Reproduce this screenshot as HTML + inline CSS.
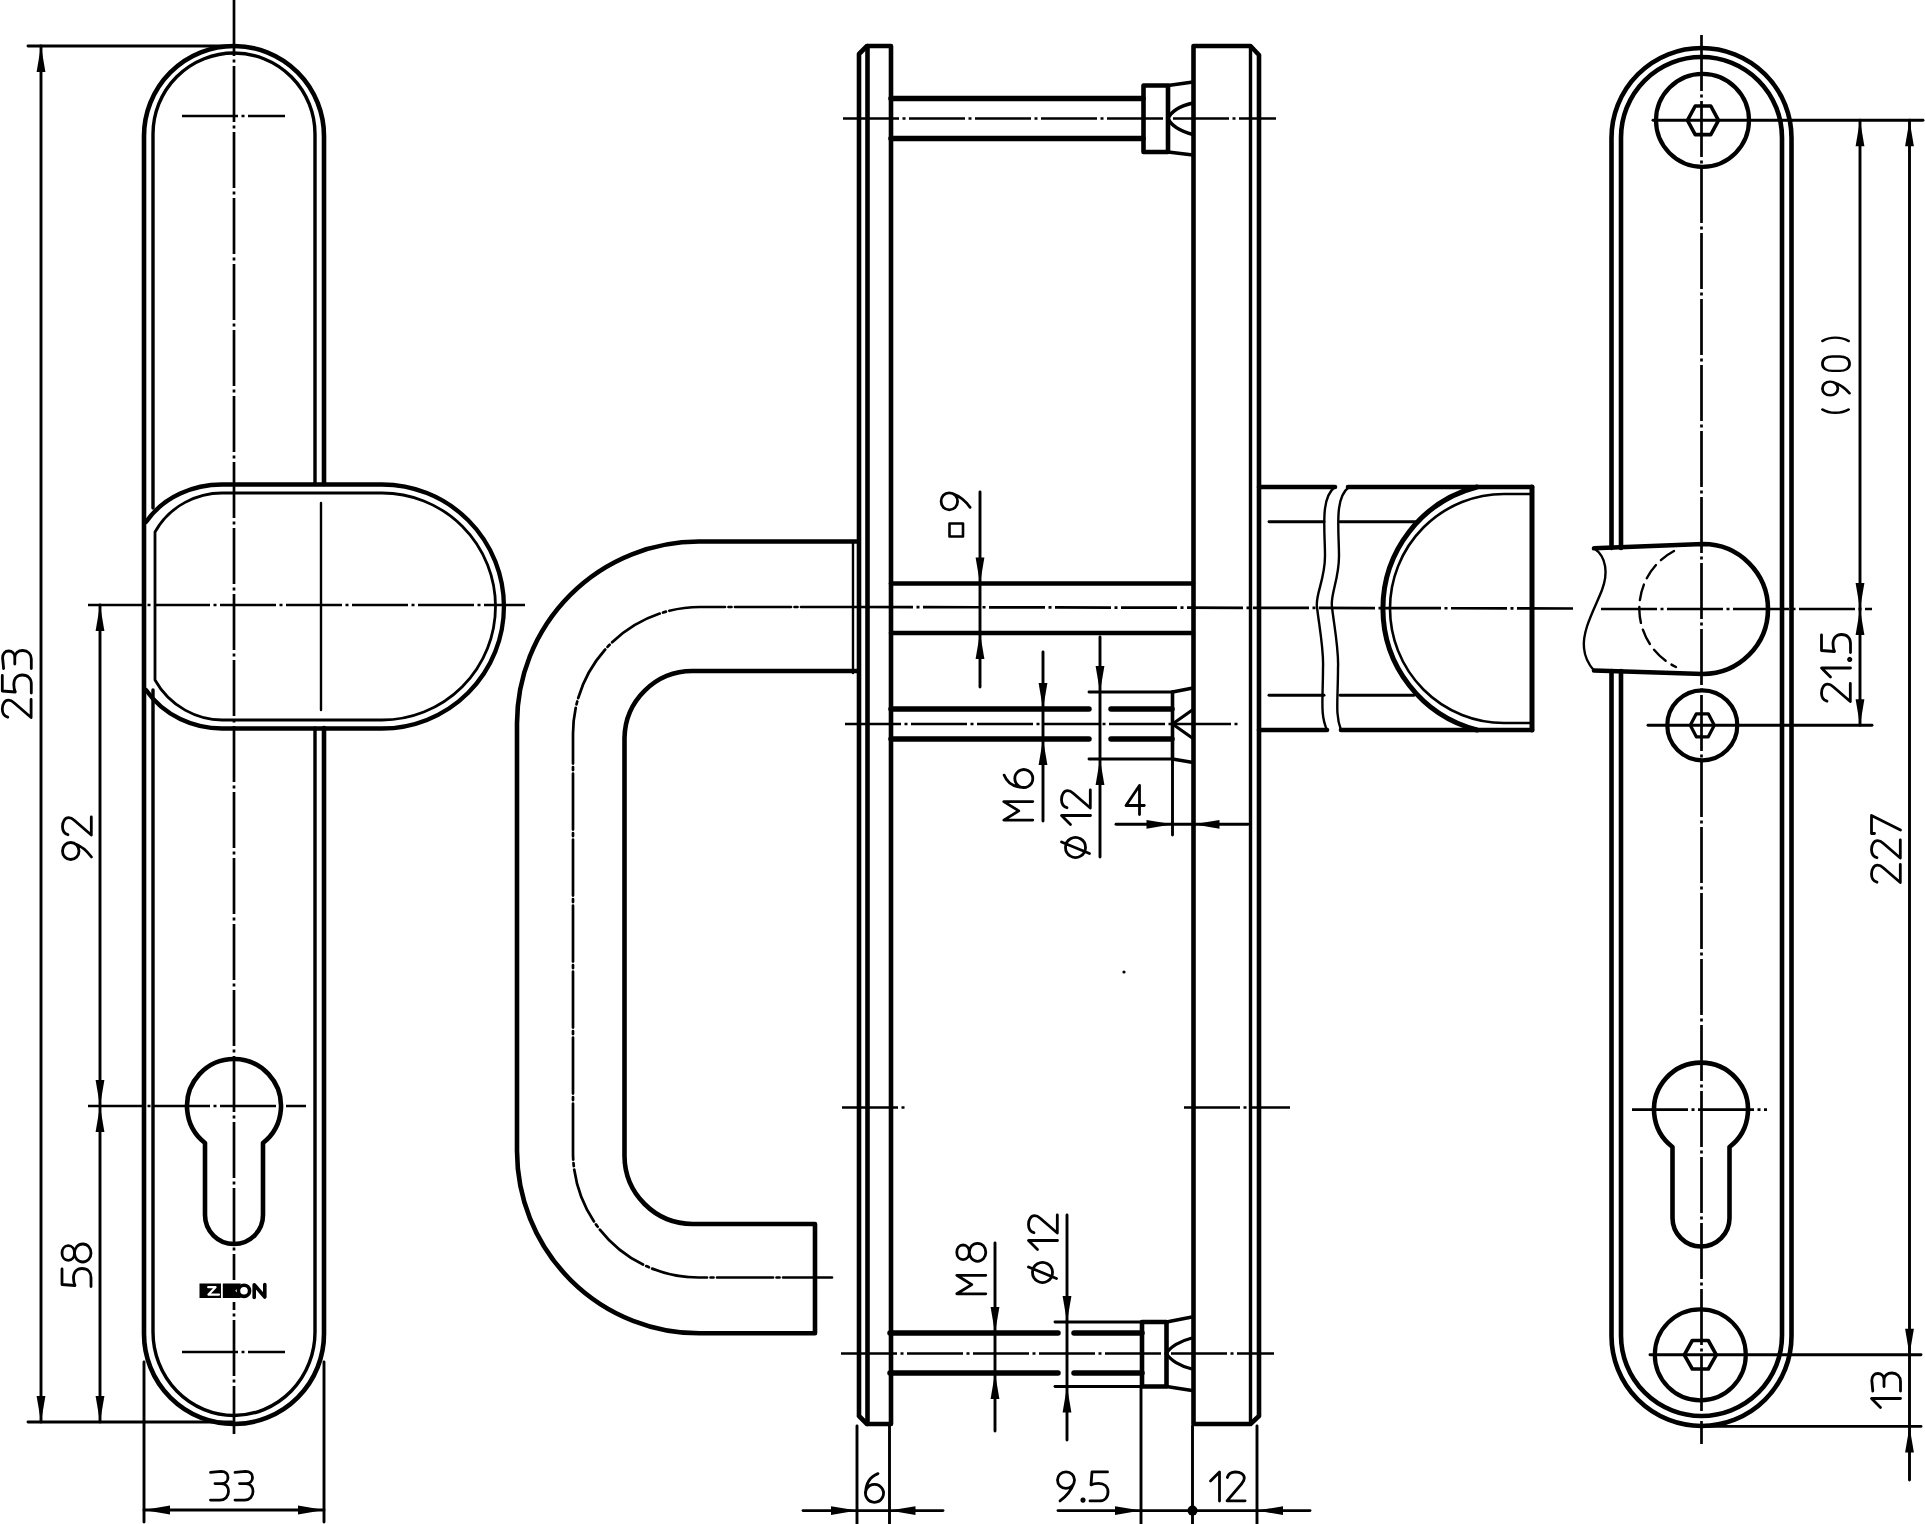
<!DOCTYPE html>
<html><head><meta charset="utf-8"><title>drawing</title>
<style>
html,body{margin:0;padding:0;background:#fff;width:1925px;height:1524px;overflow:hidden;font-family:"Liberation Sans",sans-serif;}
svg{display:block;}
</style></head>
<body>
<svg width="1925" height="1524" viewBox="0 0 1925 1524">
<rect width="1925" height="1524" fill="#fff"/>
<g fill="none" stroke="#000" stroke-linecap="round" stroke-linejoin="round">
<path d="M324,484 V136 A90,90 0 0 0 144,136 V1334 A90,90 0 0 0 324,1334 V728" stroke-width="4.6" />
<path d="M153,508 V134 A81,81 0 0 1 315,134 V484" stroke-width="3.4" />
<path d="M315,728 V1332 A81,83.5 0 0 1 153,1332 V690" stroke-width="3.4" />
<path d="M146,522 C164,496 194,484.5 222,484.5 H382 A122,122 0 0 1 382,728.5 H222 C194,728.5 164,716 146,690" stroke-width="4.3" />
<path d="M155,532 C170,505 198,493 222,493 H382 A113.5,113.5 0 0 1 382,720 H222 C198,720 170,707 155,680 Z" stroke-width="2.8" />
<line x1="321" y1="503" x2="321" y2="710" stroke-width="2.4" />
<line x1="234" y1="0" x2="234" y2="1434" stroke-width="2.7" stroke-dasharray="56 3.5 3 3.5" stroke-dashoffset="0" stroke-linecap="butt"/>
<line x1="88" y1="605" x2="525" y2="605" stroke-width="2.7" stroke-dasharray="56 3.5 3 3.5" stroke-dashoffset="0" stroke-linecap="butt"/>
<line x1="182" y1="116" x2="285" y2="116" stroke-width="2.7" stroke-dasharray="56 3.5 3 3.5" stroke-dashoffset="0" stroke-linecap="butt"/>
<line x1="182" y1="1352" x2="285" y2="1352" stroke-width="2.7" stroke-dasharray="56 3.5 3 3.5" stroke-dashoffset="0" stroke-linecap="butt"/>
<path d="M205,1143 A47,47 0 1 1 263,1143 V1215 A29,29 0 0 1 205,1215 Z" stroke-width="4.6" />
<line x1="88" y1="1106" x2="306" y2="1106" stroke-width="2.7" stroke-dasharray="56 3.5 3 3.5" stroke-dashoffset="0" stroke-linecap="butt"/>
<rect x="197" y="1280" width="72" height="22" fill="#fff" stroke="none"/>
<g stroke="none" fill="#000">
<rect x="199.5" y="1283.5" width="21.5" height="14.5"/>
<rect x="222.8" y="1283.5" width="11.2" height="14.5"/>
<polygon points="234,1283.5 241,1283.5 236.5,1290.7 241,1298 234,1298"/>
</g>
<path d="M208.2,1287.2 H215.5 L208.5,1294.6 H219" stroke-width="2.2" stroke="#fff"/>
<polygon points="235.2,1290.7 238.8,1287.6 238.8,1293.9" fill="#fff" stroke="none"/>
<ellipse cx="244" cy="1290.8" rx="5.6" ry="5.6" stroke-width="3.6"/>
<path d="M254.2,1297.5 V1284.8 L264.8,1297 V1284.5" stroke-width="3.6" />
<line x1="28" y1="46" x2="232" y2="46" stroke-width="2.9" />
<line x1="28" y1="1422" x2="232" y2="1422" stroke-width="2.9" />
<line x1="41" y1="46" x2="41" y2="1422" stroke-width="2.9" />
<polygon points="41.0,46.0 36.6,72.0 45.4,72.0" fill="#000" stroke="none"/>
<polygon points="41.0,1422.0 36.6,1396.0 45.4,1396.0" fill="#000" stroke="none"/>
<line x1="100" y1="605" x2="100" y2="1422" stroke-width="2.9" />
<polygon points="100.0,605.0 95.6,631.0 104.4,631.0" fill="#000" stroke="none"/>
<polygon points="100.0,1106.0 95.6,1080.0 104.4,1080.0" fill="#000" stroke="none"/>
<polygon points="100.0,1106.0 95.6,1132.0 104.4,1132.0" fill="#000" stroke="none"/>
<polygon points="100.0,1422.0 95.6,1396.0 104.4,1396.0" fill="#000" stroke="none"/>
<line x1="144" y1="1362" x2="144" y2="1522" stroke-width="2.9" />
<line x1="324" y1="1362" x2="324" y2="1522" stroke-width="2.9" />
<line x1="144" y1="1510" x2="324" y2="1510" stroke-width="2.9" />
<polygon points="144.0,1510.0 170.0,1505.6 170.0,1514.4" fill="#000" stroke="none"/>
<polygon points="324.0,1510.0 298.0,1505.6 298.0,1514.4" fill="#000" stroke="none"/>
<g transform="translate(1.8,718) rotate(-90)" stroke-width="2.80">
<path transform="translate(0.00,0) scale(1.000,1.000)" d="M0.8,6 C1.8,2.5 5,0.5 9,0.5 C14,0.5 17.8,3 17.8,6.5 C17.8,9 16.8,10.5 15,12.5 L0.5,29.3 H18.6"/>
<path transform="translate(24.50,0) scale(1.000,1.000)" d="M18,0.5 H2.5 L1.5,13.5 C3.5,12.5 6,12 9,12 C15,12 18.5,15.5 18.5,20.5 C18.5,26 15,29.5 9.5,29.5 H0.5"/>
<path transform="translate(49.00,0) scale(1.000,1.000)" d="M0.5,1.8 L11,0.8 C15.5,0.8 18,3.3 18,6.8 C18,10.3 15.5,13 11.5,13 H5 M11.5,13 C16,13 18.5,16.5 18.5,21 C18.5,26 15,29.5 10,29.5 H0.5"/>
</g>
<g transform="translate(62,860) rotate(-90)" stroke-width="2.80">
<path transform="translate(0.00,0) scale(1.000,1.000)" d="M9,0.5 C13.8,0.5 17.5,3.8 17.5,8.7 C17.5,13.5 13.8,17 9,17 C4.2,17 0.5,13.5 0.5,8.7 C0.5,3.8 4.2,0.5 9,0.5 Z M16.5,12.5 C14.5,18 9,25 3,29.5"/>
<path transform="translate(24.50,0) scale(1.000,1.000)" d="M0.8,6 C1.8,2.5 5,0.5 9,0.5 C14,0.5 17.8,3 17.8,6.5 C17.8,9 16.8,10.5 15,12.5 L0.5,29.3 H18.6"/>
</g>
<g transform="translate(61.5,1287) rotate(-90)" stroke-width="2.80">
<path transform="translate(0.00,0) scale(1.000,1.000)" d="M18,0.5 H2.5 L1.5,13.5 C3.5,12.5 6,12 9,12 C15,12 18.5,15.5 18.5,20.5 C18.5,26 15,29.5 9.5,29.5 H0.5"/>
<path transform="translate(24.50,0) scale(1.000,1.000)" d="M9.5,13 C5.5,13 2.2,10.5 2.2,6.75 C2.2,3 5.5,0.5 9.5,0.5 C13.5,0.5 16.8,3 16.8,6.75 C16.8,10.5 13.5,13 9.5,13 C4.5,13 0.5,16.5 0.5,21.25 C0.5,26 4.5,29.5 9.5,29.5 C14.5,29.5 18.5,26 18.5,21.25 C18.5,16.5 14.5,13 9.5,13 Z"/>
</g>
<g transform="translate(210,1470.6)" stroke-width="2.80">
<path transform="translate(0.00,0) scale(1.000,1.000)" d="M0.5,1.8 L11,0.8 C15.5,0.8 18,3.3 18,6.8 C18,10.3 15.5,13 11.5,13 H5 M11.5,13 C16,13 18.5,16.5 18.5,21 C18.5,26 15,29.5 10,29.5 H0.5"/>
<path transform="translate(24.50,0) scale(1.000,1.000)" d="M0.5,1.8 L11,0.8 C15.5,0.8 18,3.3 18,6.8 C18,10.3 15.5,13 11.5,13 H5 M11.5,13 C16,13 18.5,16.5 18.5,21 C18.5,26 15,29.5 10,29.5 H0.5"/>
</g>
<path d="M859,1416 V54 L867,46 H891 V1424 H867 L859,1416" stroke-width="4.6" />
<line x1="867.5" y1="46" x2="867.5" y2="1424" stroke-width="4.6" />
<path d="M1193.5,46 H1250.5 L1259,55 V1416 L1250.5,1424 H1193.5 Z" stroke-width="4.6" />
<line x1="1250.5" y1="46" x2="1250.5" y2="1424" stroke-width="3.4" />
<path d="M857,541.5 H699 A182,182 0 0 0 517,723.5 V1151 A182.5,182.5 0 0 0 700.5,1333.3 H815 V1224 H692.6 A68.4,68.4 0 0 1 624.5,1156 V738 A68,68 0 0 1 692.5,671 H857" stroke-width="4.6" />
<path d="M853,541 V673" stroke-width="2.4" />
<path d="M857,607 H700 A127,127 0 0 0 573,734 V1152 A125.5,125.5 0 0 0 698.5,1277.5 H832" stroke-width="2.7" stroke-dasharray="56 3.5 3 3.5"/>
<line x1="857" y1="607" x2="1575" y2="608.5" stroke-width="2.7" stroke-dasharray="56 3.5 3 3.5" stroke-dashoffset="0" stroke-linecap="butt"/>
<line x1="891" y1="583.5" x2="1193" y2="583.5" stroke-width="4.6" />
<line x1="891" y1="633" x2="1193" y2="633" stroke-width="4.6" />
<line x1="891" y1="98.5" x2="1143" y2="98.5" stroke-width="5.5" />
<line x1="891" y1="138.5" x2="1143" y2="138.5" stroke-width="5.5" />
<path d="M1143.5,85.5 H1168 V152 H1143.5 Z" stroke-width="4.6" />
<path d="M1168,85.5 L1193,82" stroke-width="3.6" />
<path d="M1168,152 L1193,155" stroke-width="3.6" />
<path d="M1193,103 C1180,106 1171,112 1168,118.5 C1171,125 1180,131 1193,134.5" stroke-width="3.4" />
<line x1="843" y1="118.5" x2="1276" y2="118.5" stroke-width="2.7" stroke-dasharray="56 3.5 3 3.5" stroke-dashoffset="0" stroke-linecap="butt"/>
<line x1="891" y1="709" x2="1089" y2="709" stroke-width="5.5" />
<line x1="891" y1="739" x2="1089" y2="739" stroke-width="5.5" />
<line x1="1111" y1="709" x2="1172" y2="709" stroke-width="5.5" />
<line x1="1111" y1="739" x2="1172" y2="739" stroke-width="5.5" />
<line x1="1172.5" y1="692" x2="1172.5" y2="759" stroke-width="3.6" />
<path d="M1172.5,692 L1193,688" stroke-width="3.4" />
<path d="M1172.5,759 L1193,762.5" stroke-width="3.4" />
<path d="M1193,709.5 L1172.5,724 L1193,738.5" stroke-width="3.2" />
<line x1="1089" y1="692" x2="1172" y2="692" stroke-width="2.9" />
<line x1="1089" y1="759" x2="1172" y2="759" stroke-width="2.9" />
<line x1="845" y1="724" x2="1240" y2="724" stroke-width="2.7" stroke-dasharray="56 3.5 3 3.5" stroke-dashoffset="0" stroke-linecap="butt"/>
<line x1="890" y1="1333" x2="1058" y2="1333" stroke-width="5.5" />
<line x1="890" y1="1373" x2="1058" y2="1373" stroke-width="5.5" />
<line x1="1074" y1="1333" x2="1142" y2="1333" stroke-width="5.5" />
<line x1="1074" y1="1373" x2="1142" y2="1373" stroke-width="5.5" />
<path d="M1142,1322 H1166.5 V1386.5 H1142 Z" stroke-width="4.6" />
<path d="M1166.5,1322 L1192,1317" stroke-width="3.4" />
<path d="M1166.5,1386.5 L1192,1390.5" stroke-width="3.4" />
<path d="M1192,1338 C1180,1341 1170,1347 1166.5,1353.5 C1170,1360 1180,1366 1192,1369" stroke-width="3.2" />
<line x1="1055" y1="1322" x2="1142" y2="1322" stroke-width="2.9" />
<line x1="1055" y1="1386.5" x2="1142" y2="1386.5" stroke-width="2.9" />
<line x1="841" y1="1353.5" x2="1274" y2="1353.5" stroke-width="2.7" stroke-dasharray="56 3.5 3 3.5" stroke-dashoffset="0" stroke-linecap="butt"/>
<line x1="842" y1="1107.5" x2="907" y2="1107.5" stroke-width="2.7" stroke-dasharray="56 3.5 3 3.5" stroke-dashoffset="0" stroke-linecap="butt"/>
<line x1="1184" y1="1107.5" x2="1290" y2="1107.5" stroke-width="2.7" stroke-dasharray="56 3.5 3 3.5" stroke-dashoffset="0" stroke-linecap="butt"/>
<circle cx="1124" cy="972" r="1.6" fill="#000" stroke="none"/>
<line x1="1259" y1="487" x2="1335" y2="487" stroke-width="4.6" />
<line x1="1348" y1="487" x2="1532" y2="487" stroke-width="4.6" />
<line x1="1259" y1="730" x2="1327" y2="730" stroke-width="4.6" />
<line x1="1341" y1="730" x2="1532" y2="730" stroke-width="4.6" />
<line x1="1532" y1="487" x2="1532" y2="730" stroke-width="5.0" />
<path d="M1335,487 C1320,498 1325,530 1325,556 C1325,580 1315,595 1317,607 C1319,625 1324,650 1323,668 C1323,700 1320,715 1327,730" stroke-width="2.4" />
<path d="M1349,487 C1334,498 1339,530 1339,556 C1339,580 1330,595 1332,607 C1334,625 1339,650 1338,668 C1338,700 1335,715 1341,730" stroke-width="2.4" />
<line x1="1269" y1="521.7" x2="1324" y2="521.7" stroke-width="2.9" />
<line x1="1340" y1="521.7" x2="1416" y2="521.7" stroke-width="2.9" />
<line x1="1269" y1="695.3" x2="1324" y2="695.3" stroke-width="2.9" />
<line x1="1340" y1="695.3" x2="1414" y2="695.3" stroke-width="2.9" />
<path d="M1477,487 A125.5,125.5 0 0 0 1477,730" stroke-width="5.0" />
<path d="M1532,494 H1504 A114,114.5 0 0 0 1504,723 H1532" stroke-width="2.6" />
<line x1="980" y1="492" x2="980" y2="687" stroke-width="2.9" />
<polygon points="980.0,583.5 975.6,557.5 984.4,557.5" fill="#000" stroke="none"/>
<polygon points="980.0,633.0 975.6,659.0 984.4,659.0" fill="#000" stroke="none"/>
<g transform="translate(940.6,510.3) rotate(-90)" stroke-width="2.80">
<path transform="translate(0.00,0) scale(1.000,1.000)" d="M9,0.5 C13.8,0.5 17.5,3.8 17.5,8.7 C17.5,13.5 13.8,17 9,17 C4.2,17 0.5,13.5 0.5,8.7 C0.5,3.8 4.2,0.5 9,0.5 Z M16.5,12.5 C14.5,18 9,25 3,29.5"/>
</g>
<rect x="949.5" y="523.5" width="13.5" height="13" stroke-width="2.6"/>
<line x1="1043" y1="652" x2="1043" y2="821" stroke-width="2.9" />
<polygon points="1043.0,709.0 1038.6,683.0 1047.4,683.0" fill="#000" stroke="none"/>
<polygon points="1043.0,739.0 1038.6,765.0 1047.4,765.0" fill="#000" stroke="none"/>
<g transform="translate(1003.3,820.6) rotate(-90)" stroke-width="2.80">
<path transform="translate(0.00,0) scale(1.000,1.000)" d="M0.5,29.5 V0.5 L9.7,15.5 L19,0.5 V29.5"/>
<path transform="translate(32.50,0) scale(1.000,1.000)" d="M13,0.8 C6,3.5 0.8,10 0.6,20.5 M9.5,11.5 A9,9 0 1 1 9.49,11.5 Z"/>
</g>
<line x1="1100" y1="637" x2="1100" y2="857" stroke-width="2.9" />
<polygon points="1100.0,692.0 1095.6,666.0 1104.4,666.0" fill="#000" stroke="none"/>
<polygon points="1100.0,759.0 1095.6,785.0 1104.4,785.0" fill="#000" stroke="none"/>
<g transform="translate(1061,858) rotate(-90)" stroke-width="2.80">
<path transform="translate(0.00,0) scale(1.000,1.000)" d="M10.5,4.5 A10,10 0 1 0 10.51,4.5 Z M16,0.5 L4.5,28.5"/>
<path transform="translate(33.00,0) scale(1.000,1.000)" d="M0.5,9.5 L9.5,0.5 V29.5"/>
<path transform="translate(49.50,0) scale(1.000,1.000)" d="M0.8,6 C1.8,2.5 5,0.5 9,0.5 C14,0.5 17.8,3 17.8,6.5 C17.8,9 16.8,10.5 15,12.5 L0.5,29.3 H18.6"/>
</g>
<line x1="1172.5" y1="759" x2="1172.5" y2="835" stroke-width="2.9" />
<line x1="1116" y1="824.3" x2="1248" y2="824.3" stroke-width="2.9" />
<polygon points="1172.5,824.3 1146.5,819.9 1146.5,828.7" fill="#000" stroke="none"/>
<polygon points="1193.5,824.3 1219.5,819.9 1219.5,828.7" fill="#000" stroke="none"/>
<g transform="translate(1125.5,785)" stroke-width="2.80">
<path transform="translate(0.00,0) scale(1.000,1.000)" d="M14,29.5 V0.5 L0.5,20.5 H18.8"/>
</g>
<line x1="995" y1="1243" x2="995" y2="1431" stroke-width="2.9" />
<polygon points="995.0,1333.0 990.6,1307.0 999.4,1307.0" fill="#000" stroke="none"/>
<polygon points="995.0,1373.0 990.6,1399.0 999.4,1399.0" fill="#000" stroke="none"/>
<g transform="translate(956.3,1294.3) rotate(-90)" stroke-width="2.80">
<path transform="translate(0.00,0) scale(1.000,1.000)" d="M0.5,29.5 V0.5 L9.7,15.5 L19,0.5 V29.5"/>
<path transform="translate(32.50,0) scale(1.000,1.000)" d="M9.5,13 C5.5,13 2.2,10.5 2.2,6.75 C2.2,3 5.5,0.5 9.5,0.5 C13.5,0.5 16.8,3 16.8,6.75 C16.8,10.5 13.5,13 9.5,13 C4.5,13 0.5,16.5 0.5,21.25 C0.5,26 4.5,29.5 9.5,29.5 C14.5,29.5 18.5,26 18.5,21.25 C18.5,16.5 14.5,13 9.5,13 Z"/>
</g>
<line x1="1067" y1="1215" x2="1067" y2="1440" stroke-width="2.9" />
<polygon points="1067.0,1322.0 1062.6,1296.0 1071.4,1296.0" fill="#000" stroke="none"/>
<polygon points="1067.0,1386.5 1062.6,1412.5 1071.4,1412.5" fill="#000" stroke="none"/>
<g transform="translate(1028,1283) rotate(-90)" stroke-width="2.80">
<path transform="translate(0.00,0) scale(1.000,1.000)" d="M10.5,4.5 A10,10 0 1 0 10.51,4.5 Z M16,0.5 L4.5,28.5"/>
<path transform="translate(33.00,0) scale(1.000,1.000)" d="M0.5,9.5 L9.5,0.5 V29.5"/>
<path transform="translate(49.50,0) scale(1.000,1.000)" d="M0.8,6 C1.8,2.5 5,0.5 9,0.5 C14,0.5 17.8,3 17.8,6.5 C17.8,9 16.8,10.5 15,12.5 L0.5,29.3 H18.6"/>
</g>
<line x1="857" y1="1426" x2="857" y2="1524" stroke-width="2.9" />
<line x1="889.5" y1="1426" x2="889.5" y2="1524" stroke-width="2.9" />
<line x1="803" y1="1510.6" x2="943" y2="1510.6" stroke-width="2.9" />
<polygon points="857.0,1510.6 831.0,1506.2 831.0,1515.0" fill="#000" stroke="none"/>
<polygon points="889.5,1510.6 915.5,1506.2 915.5,1515.0" fill="#000" stroke="none"/>
<line x1="1141" y1="1388" x2="1141" y2="1524" stroke-width="2.9" />
<line x1="1192.5" y1="1426" x2="1192.5" y2="1524" stroke-width="2.9" />
<line x1="1257" y1="1426" x2="1257" y2="1524" stroke-width="2.9" />
<line x1="1058" y1="1510.6" x2="1310" y2="1510.6" stroke-width="2.9" />
<polygon points="1141.0,1510.6 1115.0,1506.2 1115.0,1515.0" fill="#000" stroke="none"/>
<polygon points="1257.0,1510.6 1283.0,1506.2 1283.0,1515.0" fill="#000" stroke="none"/>
<circle cx="1192.5" cy="1510.6" r="5" fill="#000" stroke="none"/>
<g transform="translate(865,1472.8)" stroke-width="2.80">
<path transform="translate(0.00,0) scale(1.000,1.000)" d="M13,0.8 C6,3.5 0.8,10 0.6,20.5 M9.5,11.5 A9,9 0 1 1 9.49,11.5 Z"/>
</g>
<g transform="translate(1057,1471.4)" stroke-width="2.80">
<path transform="translate(0.00,0) scale(1.000,1.000)" d="M9,0.5 C13.8,0.5 17.5,3.8 17.5,8.7 C17.5,13.5 13.8,17 9,17 C4.2,17 0.5,13.5 0.5,8.7 C0.5,3.8 4.2,0.5 9,0.5 Z M16.5,12.5 C14.5,18 9,25 3,29.5"/>
<path transform="translate(24.50,0) scale(1.000,1.000)" d="M1.5,27.5 A1.2,1.2 0 1 0 1.51,27.5 Z"/>
<path transform="translate(32.50,0) scale(1.000,1.000)" d="M18,0.5 H2.5 L1.5,13.5 C3.5,12.5 6,12 9,12 C15,12 18.5,15.5 18.5,20.5 C18.5,26 15,29.5 9.5,29.5 H0.5"/>
</g>
<g transform="translate(1210,1471.5)" stroke-width="2.80">
<path transform="translate(0.00,0) scale(1.000,1.000)" d="M0.5,9.5 L9.5,0.5 V29.5"/>
<path transform="translate(16.50,0) scale(1.000,1.000)" d="M0.8,6 C1.8,2.5 5,0.5 9,0.5 C14,0.5 17.8,3 17.8,6.5 C17.8,9 16.8,10.5 15,12.5 L0.5,29.3 H18.6"/>
</g>
<path d="M1611.5,548 V138 A90,90 0 0 1 1791.5,138 V1336 A90,90 0 0 1 1611.5,1336 V671" stroke-width="4.6" />
<path d="M1621,548 V137.5 A80.5,80.5 0 0 1 1782,137.5 V1335.5 A80.5,80.5 0 0 1 1621,1335.5 V671" stroke-width="4.6" />
<line x1="1701.5" y1="35" x2="1701.5" y2="1444" stroke-width="2.7" stroke-dasharray="56 3.5 3 3.5" stroke-dashoffset="0" stroke-linecap="butt"/>
<circle cx="1702.5" cy="120.3" r="46.5" stroke-width="4.2"/>
<polygon points="1687.5,120.3 1695.2,106.0 1710.8,106.0 1718.5,120.3 1710.8,134.6 1695.2,134.6" stroke-width="3.6"/>
<circle cx="1702.3" cy="725.3" r="35" stroke-width="4.2"/>
<polygon points="1690.3,725.3 1696.3,713.8 1708.3,713.8 1714.3,725.3 1708.3,736.8 1696.3,736.8" stroke-width="3.2"/>
<circle cx="1700.3" cy="1354.8" r="45.5" stroke-width="4.2"/>
<polygon points="1684.3,1354.8 1692.3,1340.5 1708.3,1340.5 1716.3,1354.8 1708.3,1369.0 1692.3,1369.0" stroke-width="3.6"/>
<path d="M1672.5,1147 A47,47 0 1 1 1729.5,1147 V1218 A28.5,28.5 0 0 1 1672.5,1218 Z" stroke-width="4.6" />
<line x1="1632" y1="1109.6" x2="1767" y2="1109.6" stroke-width="2.7" stroke-dasharray="56 3.5 3 3.5" stroke-dashoffset="0" stroke-linecap="butt"/>
<path d="M1594,548.3 L1703,544 A65,65 0 0 1 1703,674 L1594,670.5" stroke-width="4.6" />
<path d="M1594,548.3 C1607,557 1608,574 1602,590 C1595,608 1582,630 1584,648 C1585,660 1590,666 1594,670.5" stroke-width="2.4" />
<path d="M1674,551 A65,65 0 0 0 1676,667" stroke-width="2.4" stroke-dasharray="16 7"/>
<line x1="1601" y1="609" x2="1872" y2="609" stroke-width="2.7" stroke-dasharray="56 3.5 3 3.5" stroke-dashoffset="0" stroke-linecap="butt"/>
<line x1="1653" y1="120.3" x2="1923" y2="120.3" stroke-width="2.9" />
<line x1="1648" y1="725.3" x2="1872" y2="725.3" stroke-width="2.9" />
<line x1="1650" y1="1354.8" x2="1921" y2="1354.8" stroke-width="2.9" />
<line x1="1700" y1="1426.4" x2="1921" y2="1426.4" stroke-width="2.9" />
<line x1="1860" y1="120.3" x2="1860" y2="725.3" stroke-width="2.9" />
<polygon points="1860.0,120.3 1855.6,146.3 1864.4,146.3" fill="#000" stroke="none"/>
<polygon points="1860.0,609.0 1855.6,583.0 1864.4,583.0" fill="#000" stroke="none"/>
<polygon points="1860.0,609.0 1855.6,635.0 1864.4,635.0" fill="#000" stroke="none"/>
<polygon points="1860.0,725.3 1855.6,699.3 1864.4,699.3" fill="#000" stroke="none"/>
<line x1="1909.5" y1="120.3" x2="1909.5" y2="1480" stroke-width="2.9" />
<polygon points="1909.5,120.3 1905.1,146.3 1913.9,146.3" fill="#000" stroke="none"/>
<polygon points="1909.5,1354.8 1905.1,1328.8 1913.9,1328.8" fill="#000" stroke="none"/>
<polygon points="1909.5,1426.4 1905.1,1452.4 1913.9,1452.4" fill="#000" stroke="none"/>
<g transform="translate(1822,414.3) rotate(-90)" stroke-width="3.00">
<path transform="translate(0.00,0) scale(0.803,0.933)" d="M6,0.5 C0.5,8 0.5,20.5 6,28.5"/>
<path transform="translate(18.60,0) scale(0.803,0.933)" d="M9,0.5 C13.8,0.5 17.5,3.8 17.5,8.7 C17.5,13.5 13.8,17 9,17 C4.2,17 0.5,13.5 0.5,8.7 C0.5,3.8 4.2,0.5 9,0.5 Z M16.5,12.5 C14.5,18 9,25 3,29.5"/>
<path transform="translate(43.00,0) scale(0.803,0.933)" d="M9.5,0.5 C15.5,0.5 18.5,5 18.5,11 V19 C18.5,25 15.5,29.5 9.5,29.5 C3.5,29.5 0.5,25 0.5,19 V11 C0.5,5 3.5,0.5 9.5,0.5 Z"/>
<path transform="translate(68.50,0) scale(0.803,0.933)" d="M6,0.5 C11.5,8 11.5,20.5 6,28.5"/>
</g>
<g transform="translate(1821,702) rotate(-90)" stroke-width="2.80">
<path transform="translate(0.00,0) scale(1.000,1.000)" d="M0.8,6 C1.8,2.5 5,0.5 9,0.5 C14,0.5 17.8,3 17.8,6.5 C17.8,9 16.8,10.5 15,12.5 L0.5,29.3 H18.6"/>
<path transform="translate(24.50,0) scale(1.000,1.000)" d="M0.5,9.5 L9.5,0.5 V29.5"/>
<path transform="translate(41.00,0) scale(1.000,1.000)" d="M1.5,27.5 A1.2,1.2 0 1 0 1.51,27.5 Z"/>
<path transform="translate(49.00,0) scale(1.000,1.000)" d="M18,0.5 H2.5 L1.5,13.5 C3.5,12.5 6,12 9,12 C15,12 18.5,15.5 18.5,20.5 C18.5,26 15,29.5 9.5,29.5 H0.5"/>
</g>
<g transform="translate(1871,883) rotate(-90)" stroke-width="2.80">
<path transform="translate(0.00,0) scale(1.000,1.000)" d="M0.8,6 C1.8,2.5 5,0.5 9,0.5 C14,0.5 17.8,3 17.8,6.5 C17.8,9 16.8,10.5 15,12.5 L0.5,29.3 H18.6"/>
<path transform="translate(24.50,0) scale(1.000,1.000)" d="M0.8,6 C1.8,2.5 5,0.5 9,0.5 C14,0.5 17.8,3 17.8,6.5 C17.8,9 16.8,10.5 15,12.5 L0.5,29.3 H18.6"/>
<path transform="translate(49.00,0) scale(1.000,1.000)" d="M0.5,3.5 V0.5 H18.5 L4,29.5"/>
</g>
<g transform="translate(1871,1408) rotate(-90)" stroke-width="2.80">
<path transform="translate(0.00,0) scale(1.000,1.000)" d="M0.5,9.5 L9.5,0.5 V29.5"/>
<path transform="translate(16.50,0) scale(1.000,1.000)" d="M0.5,1.8 L11,0.8 C15.5,0.8 18,3.3 18,6.8 C18,10.3 15.5,13 11.5,13 H5 M11.5,13 C16,13 18.5,16.5 18.5,21 C18.5,26 15,29.5 10,29.5 H0.5"/>
</g>
</g>
</svg>
</body></html>
